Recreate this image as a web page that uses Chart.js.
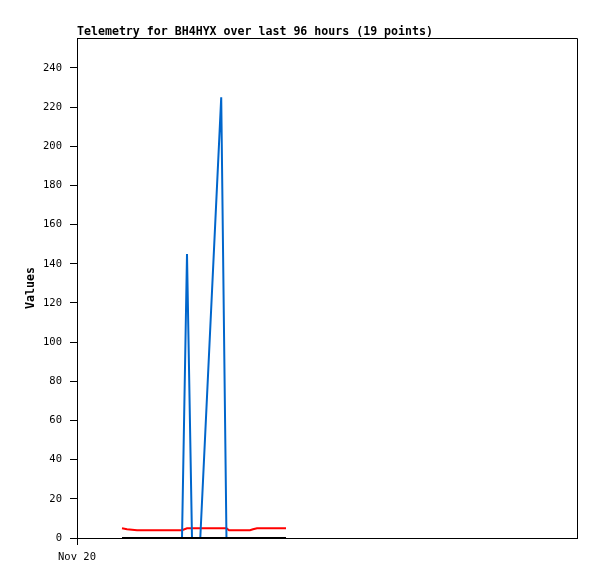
<!DOCTYPE html>
<html>
<head>
<meta charset="utf-8">
<script src="https://cdn.jsdelivr.net/npm/chart.js@4"></script>
<style>
  html, body { margin: 0; padding: 0; background: #fff; }
  #wrap { width: 597px; height: 579px; }
</style>
</head>
<body>
<div id="wrap"><canvas id="c" width="597" height="579"></canvas></div>
<script>
// hours since Nov 20 00:00
const hours = [8.64, 9.6, 11.52, 14.02, 15.94, 17.86, 20.16, 21.12, 22.08, 23.67, 27.69, 28.70, 29.18, 31.3, 33.22, 33.79, 34.56, 37.06, 40.13];
const seriesBlue  = [0, 0, 0, 0, 0, 0, 0, 145, 0, 0, 225, 0, 0, 0, 0, 0, 0, 0, 0];
const seriesRed   = [5, 4.5, 4, 4, 4, 4, 4, 5, 5, 5, 5, 5, 4, 4, 4, 4.5, 5, 5, 5];
const seriesBlack = [0, 0, 0, 0, 0, 0, 0, 0, 0, 0, 0, 0, 0, 0, 0, 0, 0, 0, 0];
const yTicks = [0, 20, 40, 60, 80, 100, 120, 140, 160, 180, 200, 220, 240];
const xTickLabels = ['Nov 20'];
const xTickValues = [0];
const titleText = 'Telemetry for BH4HYX over last 96 hours (19 points)';
const yTitle = 'Values';

const pts = arr => arr.map((v, i) => ({x: hours[i], y: v}));

const MONO = '"DejaVu Sans Mono", "Liberation Mono", monospace';

const frame = {
  id: 'frame',
  afterDraw(chart) {
    const {ctx, chartArea: a} = chart;
    ctx.save();
    ctx.strokeStyle = '#000';
    ctx.lineWidth = 1;
    ctx.beginPath();
    ctx.moveTo(Math.round(a.left) + 0.5, Math.round(a.top) + 0.5);
    ctx.lineTo(Math.round(a.right) + 0.5, Math.round(a.top) + 0.5);
    ctx.lineTo(Math.round(a.right) + 0.5, Math.round(a.bottom) + 0.5);
    ctx.stroke();
    ctx.fillStyle = '#000';
    ctx.font = 'bold 11.6px ' + MONO;
    ctx.textBaseline = 'alphabetic';
    ctx.textAlign = 'left';
    ctx.fillText(titleText, a.left, 35);
    ctx.restore();
  }
};

new Chart(document.getElementById('c'), {
  type: 'line',
  data: {
    datasets: [
      { data: pts(seriesBlack), borderColor: '#000000', borderWidth: 2, order: 0 },
      { data: pts(seriesBlue), borderColor: '#0066cc', borderWidth: 2, order: 1 },
      { data: pts(seriesRed), borderColor: '#ff0000', borderWidth: 2, order: 2 }
    ]
  },
  options: {
    responsive: false,
    animation: false,
    events: [],
    layout: { padding: { left: 0, right: 20, top: 38, bottom: 0 } },
    elements: { point: { radius: 0 }, line: { tension: 0, fill: false, borderCapStyle: 'butt' } },
    plugins: { legend: { display: false }, title: { display: false }, tooltip: { enabled: false } },
    scales: {
      x: {
        type: 'linear',
        min: 0,
        max: 96,
        afterFit(s) { s.height = 41; },
        afterBuildTicks(s) { s.ticks = xTickValues.map(v => ({value: v})); },
        ticks: {
          color: '#000',
          font: { family: MONO, size: 10.5 },
          padding: 6,
          maxRotation: 0,
          callback(v) { const i = xTickValues.indexOf(v); return i >= 0 ? xTickLabels[i] : ''; }
        },
        grid: { drawOnChartArea: false, drawTicks: true, tickLength: 7, color: '#000', lineWidth: 1 },
        border: { display: true, color: '#000', width: 1 }
      },
      y: {
        type: 'linear',
        min: 0,
        max: 255.3,
        afterFit(s) { s.width = 77; },
        afterBuildTicks(s) { s.ticks = yTicks.map(v => ({value: v})); },
        ticks: {
          color: '#000',
          font: { family: MONO, size: 10.5 },
          padding: 8
        },
        grid: { drawOnChartArea: false, drawTicks: true, tickLength: 7, color: '#000', lineWidth: 1 },
        border: { display: true, color: '#000', width: 1 },
        title: {
          display: true,
          text: yTitle,
          color: '#000',
          font: { family: MONO, size: 11.6, weight: 'bold' },
          padding: { top: 24, bottom: 0 }
        }
      }
    }
  },
  plugins: [frame]
});
</script>
</body>
</html>
